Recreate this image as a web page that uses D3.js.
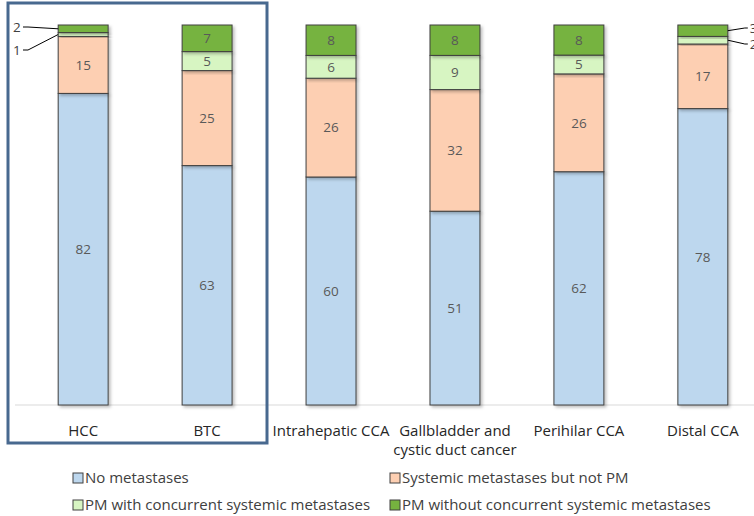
<!DOCTYPE html>
<html>
<head>
<meta charset="utf-8">
<script src="https://cdn.jsdelivr.net/npm/d3@7"></script>
<style>
  body { margin: 0; background: #fff; }
  svg { font-family: "Open Sans", sans-serif; }
</style>
</head>
<body>
<svg id="chart"></svg>
<script>
const categories = ["HCC", "BTC", "Intrahepatic CCA", "Gallbladder and\ncystic duct cancer", "Perihilar CCA", "Distal CCA"];
const seriesNames = ["No metastases", "Systemic metastases but not PM", "PM with concurrent systemic metastases", "PM without concurrent systemic metastases"];
const noMet = [82, 63, 60, 51, 62, 78];
const systemicNotPM = [15, 25, 26, 32, 26, 17];
const pmWithSystemic = [1, 5, 6, 9, 5, 2];
const pmWithoutSystemic = [2, 7, 8, 8, 8, 3];
const colors = ["#bdd7ee", "#fdcfb2", "#d7f5c2", "#76b33f"];

const width = 754, height = 516;
const margin = { top: 25, bottom: 111, left: 21, right: -11 };

const svg = d3.select("#chart").attr("width", width).attr("height", height);

const table = categories.map((c, i) => ({
  cat: c,
  s0: noMet[i], s1: systemicNotPM[i], s2: pmWithSystemic[i], s3: pmWithoutSystemic[i]
}));
const keys = ["s0", "s1", "s2", "s3"];
const stacked = d3.stack().keys(keys).offset(d3.stackOffsetExpand)(table);

const x = d3.scaleBand()
  .domain(categories)
  .range([margin.left, width - margin.right])
  .paddingInner(0.597).paddingOuter(0.3);
const y = d3.scaleLinear().domain([0, 1]).range([height - margin.bottom, margin.top]);

// axis line
svg.append("line")
  .attr("x1", 15).attr("x2", width)
  .attr("y1", y(0)).attr("y2", y(0))
  .attr("stroke", "#d9d9d9").attr("stroke-width", 1);

// shadow
const defs = svg.append("defs");
const f = defs.append("filter").attr("id", "sh").attr("x", "-20%").attr("y", "-20%").attr("width", "140%").attr("height", "140%");
f.append("feDropShadow").attr("dx", 2).attr("dy", 2).attr("stdDeviation", 1.5).attr("flood-color", "#000").attr("flood-opacity", 0.25);

const layers = svg.append("g").selectAll("g")
  .data(stacked)
  .join("g")
  .attr("fill", (d, i) => colors[i]);

layers.selectAll("rect")
  .data(d => d)
  .join("rect")
  .attr("x", d => x(d.data.cat))
  .attr("y", d => y(d[1]))
  .attr("width", x.bandwidth())
  .attr("height", d => y(d[0]) - y(d[1]))
  .attr("stroke", "#404040")
  .attr("stroke-width", 1)
  .attr("filter", "url(#sh)");

// value labels inside segments
stacked.forEach((layer, li) => {
  svg.append("g").selectAll("text")
    .data(layer.filter(d => d.data[keys[li]] >= 4))
    .join("text")
    .attr("x", d => x(d.data.cat) + x.bandwidth() / 2)
    .attr("y", d => (y(d[0]) + y(d[1])) / 2)
    .attr("dy", "0.35em")
    .attr("text-anchor", "middle")
    .attr("font-size", 13.5)
    .attr("fill", "#595959")
    .text(d => d.data[keys[li]]);
});

// callouts for small segments
const small = [];
stacked.forEach((layer, li) => {
  layer.forEach((d, ci) => {
    if (d.data[keys[li]] < 4) small.push({ d, li, ci });
  });
});
small.forEach(s => {
  const leftSide = s.ci === 0;
  const segMid = (y(s.d[0]) + y(s.d[1])) / 2;
  const bx = leftSide ? x(s.d.data.cat) : x(s.d.data.cat) + x.bandwidth();
  const isTop = s.li === 3;
  const ly = leftSide ? (isTop ? 27 : 50) : (isTop ? 28 : 44);
  const lx = leftSide ? 28 : bx + 17;
  svg.append("line")
    .attr("x1", bx).attr("y1", segMid)
    .attr("x2", lx).attr("y2", ly)
    .attr("stroke", "#000").attr("stroke-width", 1);
  if (leftSide) {
    svg.append("line").attr("x1", lx).attr("x2", lx - 5).attr("y1", ly).attr("y2", ly).attr("stroke", "#000");
  } else {
    svg.append("line").attr("x1", lx).attr("x2", lx + 3).attr("y1", ly).attr("y2", ly).attr("stroke", "#000");
  }
  svg.append("text")
    .attr("x", leftSide ? 13 : lx + 5)
    .attr("y", ly)
    .attr("dy", "0.35em")
    .attr("text-anchor", "start")
    .attr("font-size", 13.5)
    .attr("fill", "#404040")
    .text(s.d.data[keys[s.li]]);
});

// category labels
const catG = svg.append("g").selectAll("text")
  .data(categories)
  .join("text")
  .attr("x", d => x(d) + x.bandwidth() / 2)
  .attr("y", 431)
  .attr("text-anchor", "middle")
  .attr("font-size", 15)
  .attr("fill", "#262626");
catG.each(function(d) {
  const lines = d.split("\n");
  const t = d3.select(this);
  lines.forEach((ln, i) => {
    t.append("tspan")
      .attr("x", x(d) + x.bandwidth() / 2)
      .attr("dy", i === 0 ? "0.35em" : 19)
      .text(ln);
  });
});

// highlight box around HCC and BTC
svg.append("rect")
  .attr("x", 8).attr("y", 3)
  .attr("width", 259).attr("height", 440)
  .attr("fill", "none")
  .attr("stroke", "#48698f")
  .attr("stroke-width", 3);

// legend
const legendPos = [[73, 478], [390, 478], [73, 505], [390, 505]];
const leg = svg.append("g").selectAll("g")
  .data(seriesNames)
  .join("g")
  .attr("transform", (d, i) => `translate(${legendPos[i][0]},${legendPos[i][1]})`);
leg.append("rect")
  .attr("x", 0).attr("y", -5)
  .attr("width", 10).attr("height", 10)
  .attr("fill", (d, i) => colors[i])
  .attr("stroke", "#404040").attr("stroke-width", 1);
leg.append("text")
  .attr("x", 12).attr("dy", "0.35em")
  .attr("font-size", 15)
  .attr("fill", "#404040")
  .text(d => d);
</script>
</body>
</html>
